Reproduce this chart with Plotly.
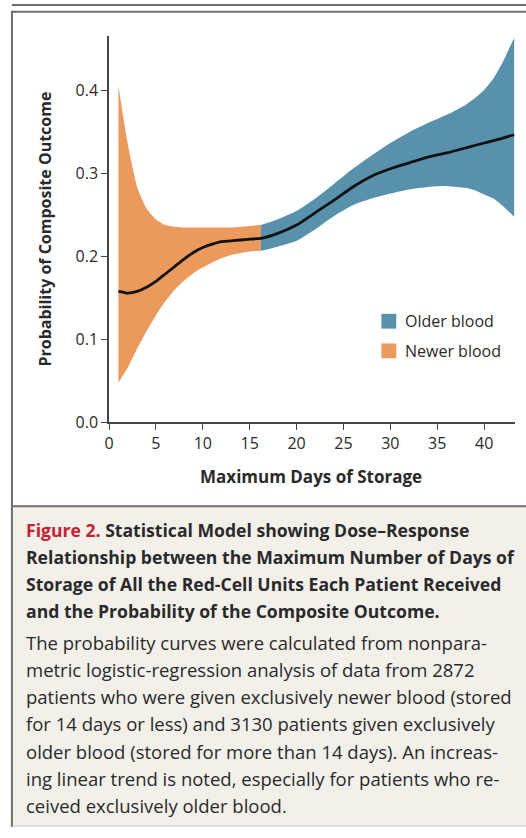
import plotly.graph_objects as go

# ---------------- data ----------------
newer_days = [1, 1.5, 2, 3, 4, 5, 6, 7, 8, 9, 10, 11, 12, 13, 14, 15, 16.2]
newer_upper = [0.406, 0.370, 0.336, 0.284, 0.258, 0.245, 0.238, 0.236, 0.235, 0.235,
               0.235, 0.235, 0.235, 0.235, 0.236, 0.237, 0.238]
newer_lower = [0.048, 0.057, 0.066, 0.089, 0.110, 0.129, 0.146, 0.160, 0.171, 0.180,
               0.187, 0.193, 0.198, 0.202, 0.204, 0.206, 0.207]
newer_mean = [0.158, 0.157, 0.156, 0.158, 0.163, 0.170, 0.179, 0.188, 0.197, 0.205,
              0.211, 0.215, 0.218, 0.219, 0.220, 0.221, 0.222]

older_days = [16.2, 18, 20, 22, 24, 26, 28, 30, 32, 34, 36, 38, 39, 40, 41, 42, 43.2]
older_upper = [0.238, 0.245, 0.255, 0.270, 0.288, 0.306, 0.322, 0.337, 0.350, 0.361,
               0.371, 0.383, 0.391, 0.401, 0.415, 0.435, 0.464]
older_lower = [0.207, 0.212, 0.219, 0.233, 0.249, 0.262, 0.270, 0.276, 0.281, 0.284,
               0.285, 0.283, 0.280, 0.275, 0.270, 0.261, 0.248]
older_mean = [0.222, 0.228, 0.238, 0.253, 0.268, 0.284, 0.297, 0.306, 0.313, 0.320,
              0.325, 0.331, 0.334, 0.337, 0.340, 0.343, 0.347]

x_ticks = [0, 5, 10, 15, 20, 25, 30, 35, 40]
y_ticks = [0.0, 0.1, 0.2, 0.3, 0.4]
legend_labels = ["Older blood", "Newer blood"]

caption_title = [
    "<span style='color:#C8202F'>Figure 2.</span> Statistical Model showing Dose\u2013Response",
    "Relationship between the Maximum Number of Days of",
    "Storage of All the Red-Cell Units Each Patient Received",
    "and the Probability of the Composite Outcome.",
]
caption_body = [
    "The probability curves were calculated from nonpara-",
    "metric logistic-regression analysis of data from 2872",
    "patients who were given exclusively newer blood (stored",
    "for 14 days or less) and 3130 patients given exclusively",
    "older blood (stored for more than 14 days). An increas-",
    "ing linear trend is noted, especially for patients who re-",
    "ceived exclusively older blood.",
]

# ---------------- styling ----------------
W, H = 526, 838
BLUE = "#5791AB"
ORANGE = "#EB9A5C"
FONT = "Open Sans"
TXT = "#2A2A2A"
FRAME = "#6E6E6E"


def px(x):
    return x / W


def py(y):
    return 1 - y / H


fig = go.Figure()

# newer blood band
fig.add_trace(go.Scatter(x=newer_days, y=newer_lower, mode="lines",
                         line=dict(width=0, color=ORANGE, shape="spline", smoothing=0.6),
                         showlegend=False, hoverinfo="skip"))
fig.add_trace(go.Scatter(x=newer_days, y=newer_upper, mode="lines", fill="tonexty",
                         fillcolor=ORANGE,
                         line=dict(width=0, color=ORANGE, shape="spline", smoothing=0.6),
                         showlegend=False, hoverinfo="skip"))
# older blood band
fig.add_trace(go.Scatter(x=older_days, y=older_lower, mode="lines",
                         line=dict(width=0, color=BLUE, shape="spline", smoothing=0.6),
                         showlegend=False, hoverinfo="skip"))
fig.add_trace(go.Scatter(x=older_days, y=older_upper, mode="lines", fill="tonexty",
                         fillcolor=BLUE,
                         line=dict(width=0, color=BLUE, shape="spline", smoothing=0.6),
                         showlegend=False, hoverinfo="skip"))
# mean curve
fig.add_trace(go.Scatter(x=newer_days + older_days[1:], y=newer_mean + older_mean[1:],
                         mode="lines",
                         line=dict(width=2.8, color="#111111", shape="spline", smoothing=0.8),
                         showlegend=False, hoverinfo="skip"))

# plot area: x 0 -> px 105, x 43.3 -> px 515; y 0 -> py 428, top py 36
X_RANGE = [0, 43.3]
Y_RANGE = [0, (428 - 36) / 840]

fig.update_layout(
    width=W, height=H,
    margin=dict(l=0, r=0, t=0, b=0),
    paper_bgcolor="white", plot_bgcolor="white",
    font=dict(family=FONT, size=16, color=TXT),
    xaxis=dict(domain=[px(105), px(515)], range=X_RANGE, tickvals=x_ticks,
               ticks="outside", ticklen=6, tickwidth=1.2, tickcolor="#444",
               showline=True, linecolor="#444", linewidth=1.5, showgrid=False,
               zeroline=False, tickfont=dict(size=16, color=TXT), fixedrange=True),
    yaxis=dict(domain=[py(428), py(36)], range=Y_RANGE, tickvals=y_ticks,
               tickformat=".1f", ticks="outside", ticklen=6, tickwidth=1.2, tickcolor="#444",
               showline=True, linecolor="#444", linewidth=1.5, showgrid=False,
               zeroline=False, tickfont=dict(size=16, color=TXT), fixedrange=True),
)

shapes = []
# frames
shapes.append(dict(type="line", xref="paper", yref="paper", x0=px(7), x1=1, y0=py(5), y1=py(5),
                   line=dict(color=FRAME, width=2)))
shapes.append(dict(type="rect", xref="paper", yref="paper", x0=px(8), x1=1, y0=py(836), y1=py(514),
                   fillcolor="#F3F0EA", line=dict(width=0), layer="below"))
shapes.append(dict(type="line", xref="paper", yref="paper", x0=px(7), x1=1, y0=py(12), y1=py(12),
                   line=dict(color=FRAME, width=2)))
shapes.append(dict(type="line", xref="paper", yref="paper", x0=px(7), x1=px(7), y0=py(11), y1=py(838),
                   line=dict(color=FRAME, width=2)))
shapes.append(dict(type="line", xref="paper", yref="paper", x0=px(7), x1=1, y0=py(513), y1=py(513),
                   line=dict(color=FRAME, width=2)))
shapes.append(dict(type="line", xref="paper", yref="paper", x0=px(7), x1=1, y0=py(837), y1=py(837),
                   line=dict(color="#BDBDBD", width=1)))
# legend swatches
for i, c in enumerate([BLUE, ORANGE]):
    y0 = 318 + i * 30
    shapes.append(dict(type="rect", xref="paper", yref="paper", x0=px(380), x1=px(395),
                       y0=py(y0 + 15), y1=py(y0), fillcolor=c, line=dict(width=0)))
fig.update_layout(shapes=shapes)

ann = []
for i, lab in enumerate(legend_labels):
    ann.append(dict(xref="paper", yref="paper", x=px(402), y=py(325.5 + i * 30), text=lab,
                    showarrow=False, xanchor="left", yanchor="middle",
                    font=dict(family=FONT, size=16, color=TXT)))
# axis titles
ann.append(dict(xref="paper", yref="paper", x=px(309), y=py(483), text="<b>Maximum Days of Storage</b>",
                showarrow=False, xanchor="center", yanchor="middle",
                font=dict(family=FONT, size=17, color=TXT)))
ann.append(dict(xref="paper", yref="paper", x=px(40), y=py(232), text="<b>Probability of Composite Outcome</b>",
                showarrow=False, xanchor="center", yanchor="middle", textangle=-90,
                font=dict(family=FONT, size=16, color=TXT)))
# caption
for i, line in enumerate(caption_title):
    ann.append(dict(xref="paper", yref="paper", x=px(19), y=py(537 + i * 27.4), text="<b>" + line + "</b>",
                    showarrow=False, xanchor="left", yanchor="middle",
                    font=dict(family=FONT, size=17.6, color=TXT)))
for i, line in enumerate(caption_body):
    ann.append(dict(xref="paper", yref="paper", x=px(19), y=py(651 + i * 27.5), text=line,
                    showarrow=False, xanchor="left", yanchor="middle",
                    font=dict(family=FONT, size=18.5, color=TXT)))
fig.update_layout(annotations=ann)

fig.write_html("out.html", config={"displayModeBar": False},
               post_script="document.body.style.margin='0';document.body.style.overflow='hidden';")
